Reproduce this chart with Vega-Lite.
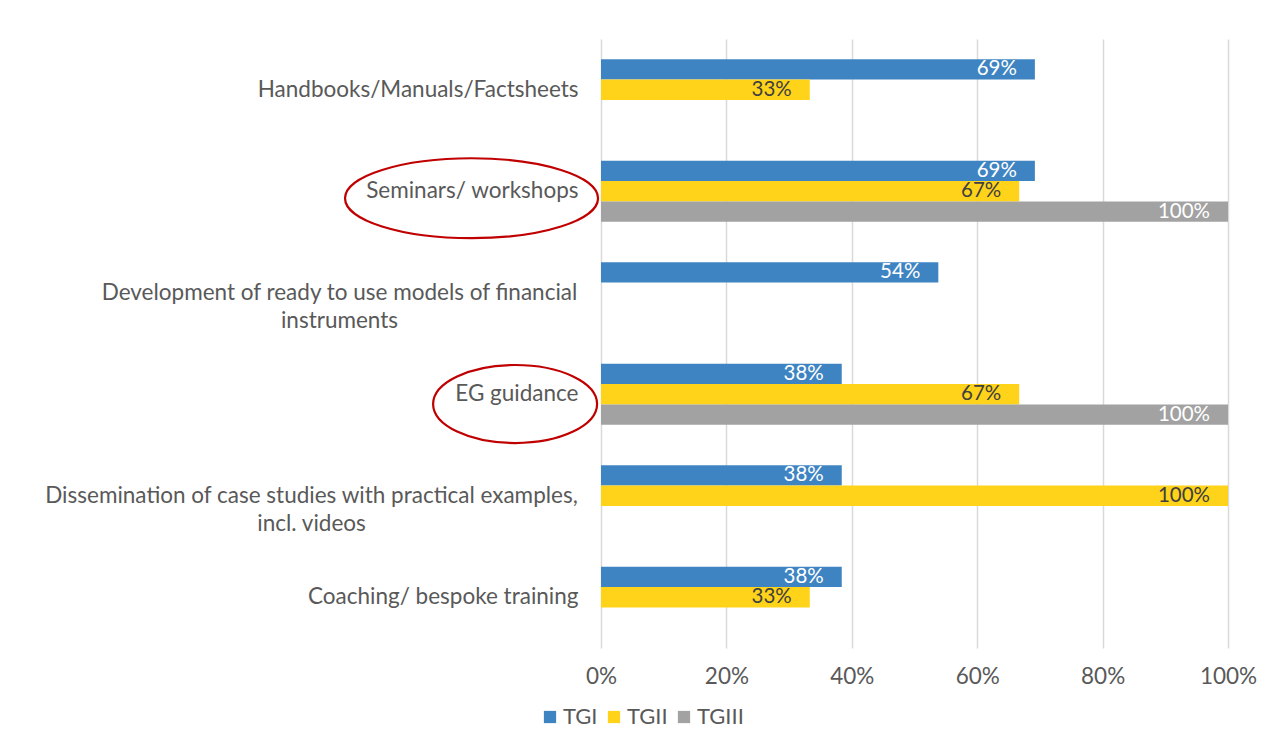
{
  "$schema": "https://vega.github.io/schema/vega-lite/v6.json",
  "width": 627,
  "height": 609,
  "autosize": "none",
  "padding": {"left": 601, "top": 39, "right": 46, "bottom": 98},
  "background": "white",
  "config": {
    "view": {"stroke": null},
    "font": "Lato",
    "axis": {"labelFont": "Lato", "labelColor": "#595959", "labelFontSize": 22.5},
    "legend": {"labelFont": "Lato", "labelColor": "#595959", "labelFontSize": 22}
  },
  "datasets": {
    "bars": [
      {"category": "Handbooks/Manuals/Factsheets", "group": "TGI", "value": 0.692},
      {"category": "Handbooks/Manuals/Factsheets", "group": "TGII", "value": 0.333},
      {"category": "Seminars/ workshops", "group": "TGI", "value": 0.692},
      {"category": "Seminars/ workshops", "group": "TGII", "value": 0.667},
      {"category": "Seminars/ workshops", "group": "TGIII", "value": 1.0},
      {"category": "Development of ready to use models of financial instruments", "group": "TGI", "value": 0.538},
      {"category": "EG guidance", "group": "TGI", "value": 0.384},
      {"category": "EG guidance", "group": "TGII", "value": 0.667},
      {"category": "EG guidance", "group": "TGIII", "value": 1.0},
      {"category": "Dissemination of case studies with practical examples, incl. videos", "group": "TGI", "value": 0.384},
      {"category": "Dissemination of case studies with practical examples, incl. videos", "group": "TGII", "value": 1.0},
      {"category": "Coaching/ bespoke training", "group": "TGI", "value": 0.384},
      {"category": "Coaching/ bespoke training", "group": "TGII", "value": 0.333}
    ],
    "highlights": [
      {"category": "Seminars/ workshops", "value": -0.2065},
      {"category": "EG guidance", "value": -0.137}
    ]
  },
  "encoding": {
    "y": {
      "field": "category",
      "type": "nominal",
      "title": null,
      "sort": null,
      "scale": {
        "domain": [
          "Handbooks/Manuals/Factsheets",
          "Seminars/ workshops",
          "Development of ready to use models of financial instruments",
          "EG guidance",
          "Dissemination of case studies with practical examples, incl. videos",
          "Coaching/ bespoke training"
        ],
        "paddingInner": 0.4,
        "paddingOuter": 0.2
      },
      "axis": {
        "ticks": false,
        "domain": false,
        "labelLimit": 700,
        "labelLineHeight": 28,
        "labelAlign": {
          "condition": {"test": "length(datum.value) > 50", "value": "center"},
          "value": "right"
        },
        "labelPadding": {
          "condition": [
            {"test": "datum.value == 'Development of ready to use models of financial instruments'", "value": 262},
            {"test": "datum.value == 'Dissemination of case studies with practical examples, incl. videos'", "value": 290}
          ],
          "value": 23
        },
        "labelExpr": "datum.label == 'Development of ready to use models of financial instruments' ? ['Development of ready to use models of financial', 'instruments'] : datum.label == 'Dissemination of case studies with practical examples, incl. videos' ? ['Dissemination of case studies with practical examples,', 'incl. videos'] : datum.label"
      }
    },
    "x": {
      "field": "value",
      "type": "quantitative",
      "title": null,
      "scale": {"domain": [0, 1], "nice": false},
      "axis": {
        "format": ".0%",
        "values": [0, 0.2, 0.4, 0.6, 0.8, 1.0],
        "grid": true,
        "gridColor": "#D9D9D9",
        "gridWidth": 1.5,
        "ticks": false,
        "domain": false,
        "labelFlush": false,
        "labelAlign": "center",
        "labelPadding": 17
      }
    }
  },
  "layer": [
    {
      "data": {"name": "bars"},
      "mark": {"type": "bar"},
      "encoding": {
        "yOffset": {
          "field": "group",
          "type": "nominal",
          "scale": {"domain": ["TGI", "TGII", "TGIII"], "paddingInner": 0, "paddingOuter": 0}
        },
        "color": {
          "field": "group",
          "type": "nominal",
          "scale": {"domain": ["TGI", "TGII", "TGIII"], "range": ["#3F84C2", "#FFD31A", "#A2A2A2"]},
          "legend": {
            "title": null,
            "orient": "none",
            "direction": "horizontal",
            "legendX": -62,
            "legendY": 667,
            "symbolType": "square",
            "symbolSize": 150,
            "symbolStrokeWidth": 0,
            "labelOffset": 2,
            "columnPadding": 5
          }
        }
      }
    },
    {
      "data": {"name": "bars"},
      "mark": {"type": "text", "align": "right", "baseline": "middle", "dx": -18, "fontSize": 20.5, "font": "Lato"},
      "encoding": {
        "yOffset": {
          "field": "group",
          "type": "nominal",
          "scale": {"domain": ["TGI", "TGII", "TGIII"], "paddingInner": 0, "paddingOuter": 0}
        },
        "text": {"field": "value", "type": "quantitative", "format": ".0%"},
        "color": {
          "condition": {"test": "datum.group == 'TGII'", "value": "#404040"},
          "value": "#FFFFFF"
        }
      }
    },
    {
      "data": {"name": "highlights"},
      "transform": [{"filter": "datum.category == 'Seminars/ workshops'"}],
      "mark": {
        "type": "point",
        "filled": false,
        "stroke": "#C00000",
        "strokeWidth": 2.2,
        "opacity": 1,
        "size": 64009,
        "shape": "M -1 0.055 A 1 0.316 0 1 1 1 0.055 A 1 0.316 0 1 1 -1 0.055 Z"
      },
      "encoding": {}
    },
    {
      "data": {"name": "highlights"},
      "transform": [{"filter": "datum.category == 'EG guidance'"}],
      "mark": {
        "type": "point",
        "filled": false,
        "stroke": "#C00000",
        "strokeWidth": 2.2,
        "opacity": 1,
        "size": 26896,
        "shape": "M -1 0.119 A 1 0.476 0 1 1 1 0.119 A 1 0.476 0 1 1 -1 0.119 Z"
      },
      "encoding": {}
    }
  ]
}
